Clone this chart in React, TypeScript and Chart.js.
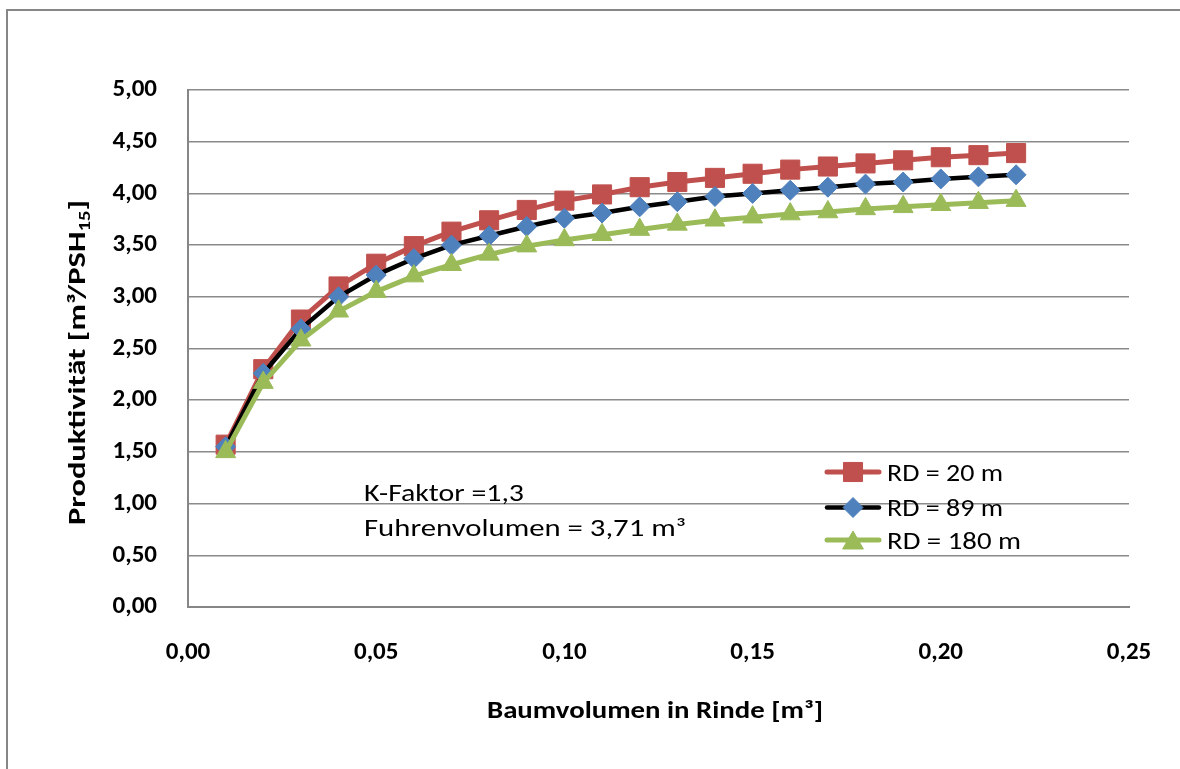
import React, { useEffect, useRef } from 'react';
import { Chart, registerables } from 'chart.js';

Chart.register(...registerables);

// ---------- data ----------
const xValues = [0.01, 0.02, 0.03, 0.04, 0.05, 0.06, 0.07, 0.08, 0.09, 0.10, 0.11, 0.12, 0.13, 0.14, 0.15, 0.16, 0.17, 0.18, 0.19, 0.20, 0.21, 0.22];
const rd20 = [1.57, 2.30, 2.78, 3.10, 3.32, 3.49, 3.63, 3.74, 3.84, 3.93, 3.99, 4.06, 4.11, 4.15, 4.19, 4.23, 4.26, 4.29, 4.32, 4.35, 4.37, 4.39];
const rd89 = [1.55, 2.26, 2.69, 3.00, 3.21, 3.37, 3.50, 3.59, 3.68, 3.76, 3.81, 3.87, 3.92, 3.97, 4.00, 4.03, 4.06, 4.09, 4.11, 4.14, 4.16, 4.18];
const rd180 = [1.50, 2.17, 2.58, 2.86, 3.05, 3.20, 3.31, 3.41, 3.49, 3.55, 3.60, 3.65, 3.70, 3.74, 3.77, 3.80, 3.82, 3.85, 3.87, 3.89, 3.91, 3.93];

const seriesLabels = ['RD = 20 m', 'RD = 89 m', 'RD = 180 m'];
const xTickLabels = ['0,00', '0,05', '0,10', '0,15', '0,20', '0,25'];
const yTickLabels = ['0,00', '0,50', '1,00', '1,50', '2,00', '2,50', '3,00', '3,50', '4,00', '4,50', '5,00'];
const xTitle = 'Baumvolumen in Rinde [m³]';
const yTitleMain = 'Produktivität [m³/PSH';
const yTitleSub = '15';
const yTitleEnd = ']';
const noteLines = ['K-Faktor =1,3', 'Fuhrenvolumen = 3,71 m³'];

// ---------- styles ----------
const FONT = 'Carlito, Lato, "Open Sans", sans-serif';
const RED = '#C0504D';
const BLUE = '#4F81BD';
const GREEN = '#9BBB59';
const BLACK = '#000000';
const AXIS = '#868686';
const GRID = '#8a8a8a';

type Marker = 'rect' | 'rectRot' | 'triangle';

function drawMarker(ctx: CanvasRenderingContext2D, kind: Marker, x: number, y: number, r: number, color: string) {
  ctx.save();
  ctx.fillStyle = color;
  ctx.strokeStyle = color;
  ctx.lineWidth = 1;
  ctx.beginPath();
  if (kind === 'rect') {
    const s = Math.SQRT1_2 * r;
    ctx.rect(x - s, y - s, 2 * s, 2 * s);
  } else if (kind === 'rectRot') {
    ctx.moveTo(x - r, y);
    ctx.lineTo(x, y - r);
    ctx.lineTo(x + r, y);
    ctx.lineTo(x, y + r);
    ctx.closePath();
  } else {
    const h = r * 0.75;
    const w = r * Math.sqrt(3) / 2;
    ctx.moveTo(x, y - h);
    ctx.lineTo(x + w, y + h);
    ctx.lineTo(x - w, y + h);
    ctx.closePath();
  }
  ctx.fill();
  ctx.stroke();
  ctx.restore();
}

function fitText(ctx: CanvasRenderingContext2D, text: string, x: number, y: number, width: number, align: 'left' | 'center') {
  const m = ctx.measureText(text).width;
  const s = width / m;
  ctx.save();
  ctx.translate(x, y);
  ctx.scale(s, 1);
  ctx.textAlign = 'left';
  ctx.textBaseline = 'alphabetic';
  ctx.fillText(text, align === 'center' ? -m / 2 : 0, 0);
  ctx.restore();
}

const legendItems: { label: string; line: string; lineWidth: number; marker: Marker; color: string; r: number; y: number; baseline: number; textW: number }[] = [
  { label: seriesLabels[0], line: RED, lineWidth: 5, marker: 'rect', color: RED, r: 13.5, y: 472, baseline: 480.5, textW: 116 },
  { label: seriesLabels[1], line: BLACK, lineWidth: 4.5, marker: 'rectRot', color: BLUE, r: 10, y: 507.5, baseline: 516, textW: 116 },
  { label: seriesLabels[2], line: GREEN, lineWidth: 5, marker: 'triangle', color: GREEN, r: 12, y: 540, baseline: 548.5, textW: 134 },
];

const decorPlugin = {
  id: 'decor',
  beforeDraw(chart: any) {
    const ctx: CanvasRenderingContext2D = chart.ctx;
    ctx.save();
    ctx.fillStyle = '#ffffff';
    ctx.fillRect(0, 0, chart.width, chart.height);
    ctx.strokeStyle = AXIS;
    ctx.lineWidth = 2;
    ctx.strokeRect(7, 10, chart.width + 50, chart.height + 50);
    ctx.restore();
  },
  afterDraw(chart: any) {
    const ctx: CanvasRenderingContext2D = chart.ctx;
    ctx.save();
    ctx.fillStyle = '#000';

    // x title
    ctx.font = `bold 23.5px ${FONT}`;
    fitText(ctx, xTitle, 655, 718, 336, 'center');

    // y title (rotated, with subscript)
    ctx.save();
    ctx.translate(85, 362.5);
    ctx.rotate(-Math.PI / 2);
    ctx.font = `bold 23.5px ${FONT}`;
    const wMain = ctx.measureText(yTitleMain).width;
    const wEnd = ctx.measureText(yTitleEnd).width;
    ctx.font = `bold 15px ${FONT}`;
    const wSub = ctx.measureText(yTitleSub).width;
    const total = wMain + wSub + wEnd;
    ctx.scale(325 / total, 1);
    ctx.textAlign = 'left';
    ctx.textBaseline = 'alphabetic';
    const x0 = -total / 2;
    ctx.font = `bold 23.5px ${FONT}`;
    ctx.fillText(yTitleMain, x0, 0);
    ctx.font = `bold 15px ${FONT}`;
    ctx.fillText(yTitleSub, x0 + wMain, 5);
    ctx.font = `bold 23.5px ${FONT}`;
    ctx.fillText(yTitleEnd, x0 + wMain + wSub, 0);
    ctx.restore();

    // notes
    ctx.font = `23.5px ${FONT}`;
    fitText(ctx, noteLines[0], 364, 500.5, 160, 'left');
    fitText(ctx, noteLines[1], 364, 535.5, 322, 'left');

    // legend
    for (const it of legendItems) {
      ctx.save();
      ctx.strokeStyle = it.line;
      ctx.lineWidth = it.lineWidth;
      ctx.lineCap = 'round';
      ctx.beginPath();
      ctx.moveTo(827, it.y);
      ctx.lineTo(879, it.y);
      ctx.stroke();
      ctx.restore();
      drawMarker(ctx, it.marker, 853, it.y, it.r, it.color);
      ctx.fillStyle = '#000';
      ctx.font = `23.5px ${FONT}`;
      fitText(ctx, it.label, 887, it.baseline, it.textW, 'left');
    }
    ctx.restore();
  },
};

export default function App() {
  const ref = useRef<HTMLCanvasElement | null>(null);

  useEffect(() => {
    document.body.style.margin = '0';
    const canvas = ref.current;
    if (!canvas) return;
    const toPts = (ys: number[]) => xValues.map((x, i) => ({ x, y: ys[i] }));
    const chart = new Chart(canvas, {
      type: 'line',
      data: {
        datasets: [
          {
            label: seriesLabels[0], data: toPts(rd20), order: 3,
            borderColor: RED, borderWidth: 5, backgroundColor: RED,
            pointStyle: 'rect', pointRadius: 13.5, pointBackgroundColor: RED, pointBorderColor: RED, pointBorderWidth: 1,
            tension: 0, fill: false,
          },
          {
            label: seriesLabels[1], data: toPts(rd89), order: 2,
            borderColor: BLACK, borderWidth: 4.5, backgroundColor: BLUE,
            pointStyle: 'rectRot', pointRadius: 10, pointBackgroundColor: BLUE, pointBorderColor: BLUE, pointBorderWidth: 1,
            tension: 0, fill: false,
          },
          {
            label: seriesLabels[2], data: toPts(rd180), order: 1,
            borderColor: GREEN, borderWidth: 5, backgroundColor: GREEN,
            pointStyle: 'triangle', pointRadius: 11.5, pointBackgroundColor: GREEN, pointBorderColor: GREEN, pointBorderWidth: 1,
            tension: 0, fill: false,
          },
        ],
      },
      options: {
        responsive: false,
        animation: false,
        devicePixelRatio: 1,
        layout: { padding: { left: 0, top: 90, right: 51, bottom: 0 } },
        plugins: { legend: { display: false }, tooltip: { enabled: false }, title: { display: false } },
        scales: {
          x: {
            type: 'linear', min: 0, max: 0.25,
            ticks: {
              stepSize: 0.05, autoSkip: false, maxRotation: 0, padding: 31, color: '#000',
              font: { family: FONT, size: 25, weight: 'bold' },
              callback: (_v: any, i: number) => xTickLabels[i],
            },
            grid: { display: true, drawOnChartArea: false, drawTicks: false },
            border: { display: true, color: AXIS, width: 2 },
            afterFit: (s: any) => { s.height = 162; s.paddingLeft = 0; s.paddingRight = 0; },
          },
          y: {
            type: 'linear', min: 0, max: 5,
            ticks: {
              stepSize: 0.5, padding: 31, color: '#000',
              font: { family: FONT, size: 25, weight: 'bold' },
              callback: (_v: any, i: number) => yTickLabels[i],
            },
            grid: { color: GRID, lineWidth: 1.5, drawTicks: false },
            border: { display: true, color: AXIS, width: 2 },
            afterFit: (s: any) => { s.width = 188; s.paddingTop = 0; s.paddingBottom = 0; },
          },
        },
      } as any,
      plugins: [decorPlugin],
    });
    return () => chart.destroy();
  }, []);

  return (
    <div style={{ width: 1180, height: 769 }}>
      <canvas ref={ref} width={1180} height={769} style={{ display: 'block', width: 1180, height: 769 }} />
    </div>
  );
}
